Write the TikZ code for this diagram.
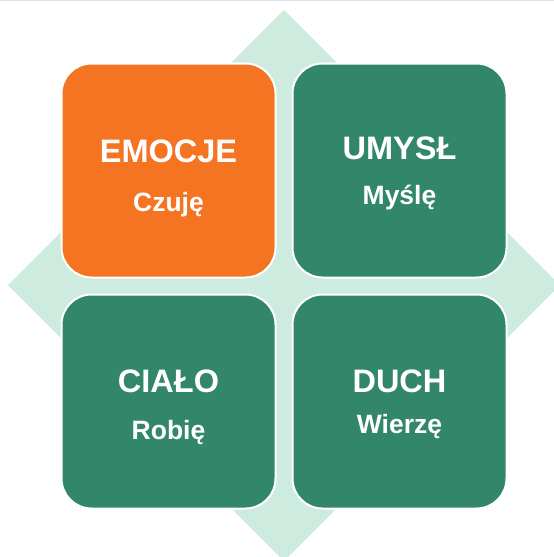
\documentclass[tikz,border=0pt]{standalone}
\usepackage{fontspec}
\setmainfont{Liberation Sans}
\usepackage{xcolor}
\usetikzlibrary{positioning}

\definecolor{tileorange}{RGB}{245,116,33}
\definecolor{tilegreen}{RGB}{50,135,106}
\definecolor{mint}{RGB}{205,235,223}
\definecolor{topline}{RGB}{222,226,244}

\begin{document}
\begin{tikzpicture}[
  x=1pt, y=-1pt,
  every node/.style={font=\bfseries, text=white, align=center},
  tile/.style    ={rectangle, draw=white, line width=2pt, rounded corners=30pt,
                   minimum width=214pt, minimum height=214pt, inner sep=0pt},
  head/.style    ={anchor=base, font=\bfseries\fontsize{32.5}{38}\selectfont},
  sub/.style     ={anchor=base, font=\bfseries\fontsize{26.5}{31}\selectfont},
]

% Frame
\clip (0,0) rectangle (554,557);
\fill[white] (0,0) rectangle (554,557);
\draw[topline, line width=1.5pt] (0,0.5) -- (554,0.5);

% Diamond behind the tiles
\fill[mint] (284,10) -- (560,285) -- (284,561) -- (8,285) -- cycle;

% Tiles
\node[tile, fill=tileorange] (emocje) at (168.5,170.5) {};
\node[tile, fill=tilegreen]  (umysl)  at (399.5,170.5) {};
\node[tile, fill=tilegreen]  (cialo)  at (168.5,401.5) {};
\node[tile, fill=tilegreen]  (duch)   at (399.5,401.5) {};

% Labels
\node[head] (emocje-h) at ([yshift=8pt]emocje.center)   {EMOCJE};
\node[sub]  (emocje-s) at ([yshift=-41pt]emocje.center) {Czuję};
\node[head] (umysl-h)  at ([yshift=11pt]umysl.center)   {UMYSŁ};
\node[sub]  (umysl-s)  at ([yshift=-34pt]umysl.center)  {Myślę};
\node[head] (cialo-h)  at ([yshift=9pt]cialo.center)    {CIAŁO};
\node[sub]  (cialo-s)  at ([yshift=-38pt]cialo.center)  {Robię};
\node[head] (duch-h)   at ([yshift=9pt]duch.center)     {DUCH};
\node[sub]  (duch-s)   at ([yshift=-32pt]duch.center)   {Wierzę};

\end{tikzpicture}
\end{document}
